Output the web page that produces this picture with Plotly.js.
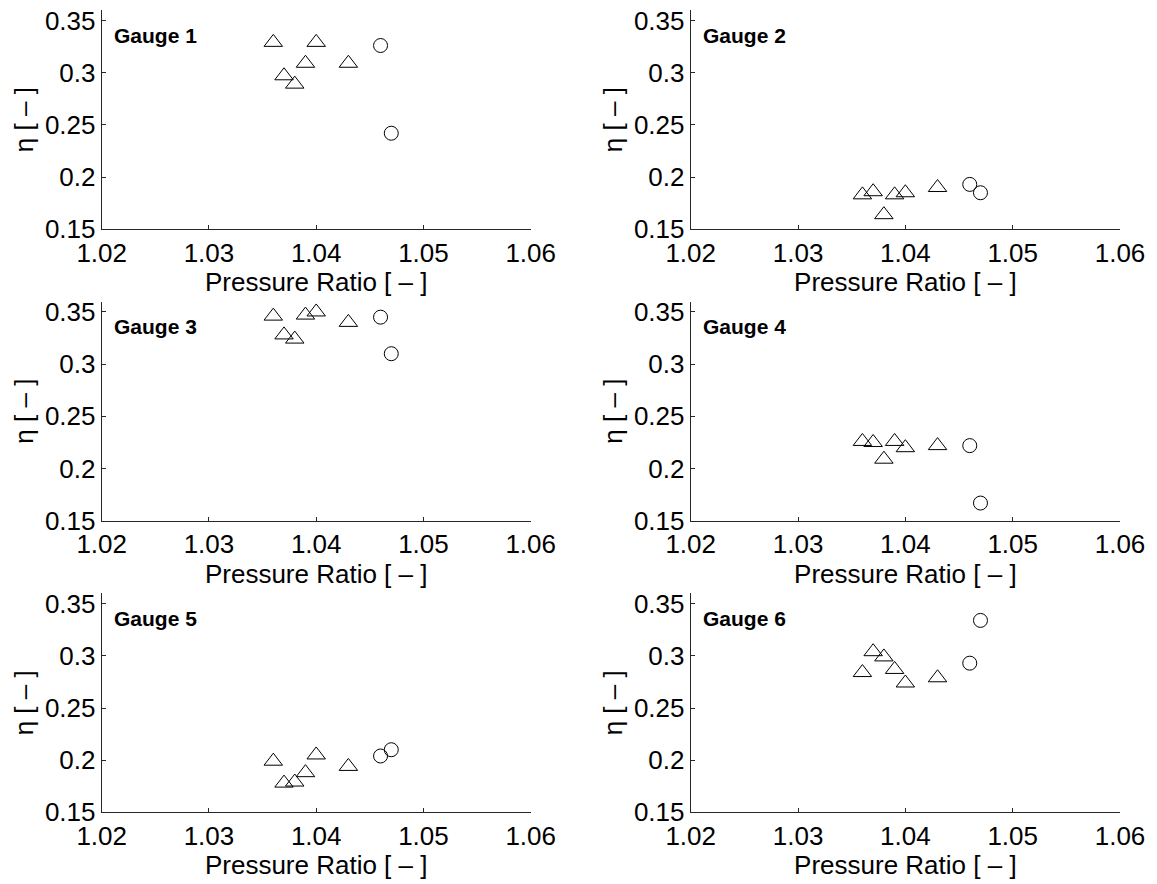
<!DOCTYPE html>
<html>
<head>
<meta charset="utf-8">
<script src="https://cdn.plot.ly/plotly-3.0.1.min.js"></script>
<style>
  html, body { margin: 0; padding: 0; background: #fff; }
  #chart { width: 1157px; height: 884px; }
</style>
</head>
<body>
<div id="chart"></div>
<script>
// ---- data ----
const gaugeNames = ["Gauge 1", "Gauge 2", "Gauge 3", "Gauge 4", "Gauge 5", "Gauge 6"];
const triPressureRatio = [1.036, 1.037, 1.038, 1.039, 1.040, 1.043];
const circPressureRatio = [1.046, 1.047];

const gauge1Tri = [0.329, 0.297, 0.289, 0.309, 0.329, 0.309];
const gauge1Circ = [0.326, 0.242];
const gauge2Tri = [0.183, 0.186, 0.164, 0.183, 0.185, 0.190];
const gauge2Circ = [0.193, 0.185];
const gauge3Tri = [0.346, 0.328, 0.324, 0.347, 0.350, 0.340];
const gauge3Circ = [0.345, 0.310];
const gauge4Tri = [0.226, 0.225, 0.209, 0.226, 0.220, 0.222];
const gauge4Circ = [0.222, 0.167];
const gauge5Tri = [0.199, 0.178, 0.179, 0.188, 0.205, 0.194];
const gauge5Circ = [0.204, 0.210];
const gauge6Tri = [0.284, 0.304, 0.299, 0.287, 0.274, 0.279];
const gauge6Circ = [0.293, 0.334];

const xTickVals = [1.02, 1.03, 1.04, 1.05, 1.06];
const xTickText = ["1.02", "1.03", "1.04", "1.05", "1.06"];
const yTickVals = [0.15, 0.2, 0.25, 0.3, 0.35];
const yTickText = ["0.15", "0.2", "0.25", "0.3", "0.35"];
const xTitle = "Pressure Ratio [ \u2013 ]";
const yTitle = "\u03b7 [ \u2013 ]";

const triSeries = [gauge1Tri, gauge2Tri, gauge3Tri, gauge4Tri, gauge5Tri, gauge6Tri];
const circSeries = [gauge1Circ, gauge2Circ, gauge3Circ, gauge4Circ, gauge5Circ, gauge6Circ];

// ---- layout ----
const W = 1157, H = 884;
const FONT = "Liberation Sans, Arial, Helvetica, sans-serif";
const colX = [[101.7, 530.7], [690.7, 1120]];
const rowY = [[10, 229.3], [301.5, 520.8], [593.3, 812.3]];

const traces = [];
const layout = {
  width: W, height: H,
  margin: {l: 0, r: 0, t: 0, b: 0},
  paper_bgcolor: "#fff", plot_bgcolor: "#fff",
  showlegend: false,
  font: {family: FONT, color: "#000", size: 26},
  annotations: []
};

for (let i = 0; i < 6; i++) {
  const n = i + 1;
  const sx = n === 1 ? "" : String(n);
  const col = i % 2, row = Math.floor(i / 2);
  const xa = "x" + sx, ya = "y" + sx;
  traces.push({
    type: "scatter", mode: "markers", x: triPressureRatio, y: triSeries[i],
    xaxis: xa, yaxis: ya,
    marker: {symbol: "triangle-up-open", size: 16, color: "#000", line: {width: 1, color: "#000"}},
    hoverinfo: "x+y"
  });
  traces.push({
    type: "scatter", mode: "markers", x: circPressureRatio, y: circSeries[i],
    xaxis: xa, yaxis: ya,
    marker: {symbol: "circle-open", size: 14, color: "#000", line: {width: 1, color: "#000"}},
    hoverinfo: "x+y"
  });
  const common = {
    showgrid: false, zeroline: false, showline: true, mirror: false,
    linecolor: "#262626", linewidth: 1,
    ticks: "inside", ticklen: 4, tickcolor: "#262626", tickwidth: 1,
    tickfont: {family: FONT, size: 26, color: "#000"},
    fixedrange: true
  };
  layout["xaxis" + sx] = Object.assign({}, common, {
    domain: [colX[col][0] / W, colX[col][1] / W],
    range: [1.02, 1.06], anchor: ya,
    tickmode: "array", tickvals: xTickVals, ticktext: xTickText,
    title: {text: xTitle, font: {family: FONT, size: 26, color: "#000"}, standoff: 2}
  });
  layout["yaxis" + sx] = Object.assign({}, common, {
    domain: [1 - rowY[row][1] / H, 1 - rowY[row][0] / H],
    range: [0.15, 0.36], anchor: xa,
    tickmode: "array", tickvals: yTickVals, ticktext: yTickText,
    title: {text: yTitle, font: {family: FONT, size: 26, color: "#000"}, standoff: 3}
  });
  layout.annotations.push({
    xref: xa + " domain", yref: ya + " domain",
    x: 0.024, y: 0.886, xanchor: "left", yanchor: "middle",
    text: "<b>" + gaugeNames[i] + "</b>", showarrow: false,
    font: {family: FONT, size: 21, color: "#000"}
  });
}

Plotly.newPlot("chart", traces, layout, {staticPlot: true, displayModeBar: false});
</script>
</body>
</html>
